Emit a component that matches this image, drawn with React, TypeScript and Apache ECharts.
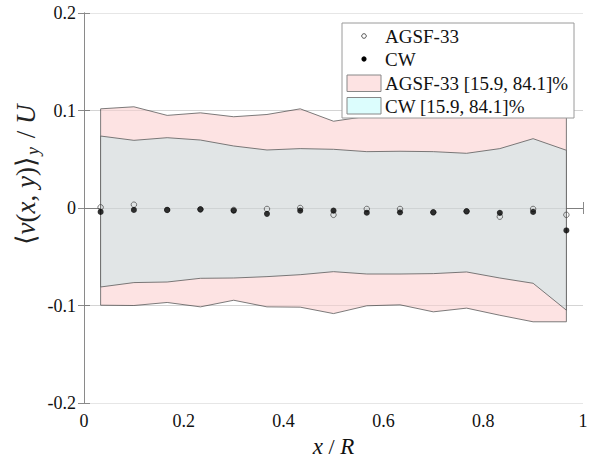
import React, { useEffect, useRef } from "react";
import * as echarts from "echarts";

// x positions (x/R)
const xs = [0.0333, 0.1, 0.1667, 0.2333, 0.3, 0.3667, 0.4333, 0.5, 0.5667, 0.6333, 0.7, 0.7667, 0.8333, 0.9, 0.9667];
// AGSF-33 mean values
const agsfMean = [0.0007, 0.0034, -0.002, -0.0014, -0.002, -0.001, 0.0, -0.007, -0.001, -0.001, -0.0044, -0.0034, -0.0089, -0.001, -0.007];
// CW mean values
const cwMean = [-0.004, -0.002, -0.002, -0.0014, -0.0027, -0.006, -0.0027, -0.0027, -0.0048, -0.0044, -0.0044, -0.0034, -0.005, -0.004, -0.023];
// AGSF-33 percentile band [15.9, 84.1]%
const agsfUpper = [0.1017, 0.1038, 0.095, 0.0976, 0.0936, 0.0959, 0.1017, 0.089, 0.094, 0.095, 0.094, 0.096, 0.098, 0.1, 0.1];
const agsfLower = [-0.0997, -0.1, -0.0969, -0.1014, -0.0946, -0.1014, -0.1017, -0.1083, -0.1003, -0.0993, -0.1065, -0.1027, -0.11, -0.1167, -0.1167];
// CW percentile band [15.9, 84.1]%
const cwUpper = [0.0738, 0.0694, 0.0721, 0.0697, 0.0636, 0.0595, 0.0609, 0.0602, 0.0578, 0.0582, 0.0578, 0.0561, 0.0609, 0.0711, 0.0592];
const cwLower = [-0.081, -0.0765, -0.0759, -0.0721, -0.0718, -0.0704, -0.0684, -0.0653, -0.0677, -0.0677, -0.0673, -0.0656, -0.0718, -0.0772, -0.1048];

const xTicks = [0, 0.2, 0.4, 0.6, 0.8, 1];
const yTicks = [-0.2, -0.1, 0, 0.1, 0.2];

const PINK = "#fde3e3";
const OVERLAP = "#e1e5e6";
const CYAN = "#dcfdfd";
const EDGE = "#5a5a5a";
const AXIS = "#8a8a8a";
const SERIF = "Liberation Serif";

function bandSeries(name: string, upper: number[], lower: number[], fill: string) {
  return {
    type: "custom",
    name,
    data: [[xs[0], upper[0]]],
    z: 1,
    silent: true,
    renderItem: (_params: any, api: any) => {
      const pts: number[][] = [];
      for (let i = 0; i < xs.length; i++) pts.push(api.coord([xs[i], upper[i]]));
      for (let i = xs.length - 1; i >= 0; i--) pts.push(api.coord([xs[i], lower[i]]));
      return {
        type: "polygon",
        shape: { points: pts },
        style: { fill, stroke: EDGE, lineWidth: 0.8 },
      };
    },
  };
}

export default function App() {
  const ref = useRef<HTMLDivElement>(null);
  useEffect(() => {
    document.body.style.margin = "0";
    const chart = echarts.init(ref.current!, null, { renderer: "svg" });
    const tickFmt = (v: number) => {
      const r = Math.round(v * 10) / 10;
      return r === 0 ? "0" : String(r);
    };
    const axisCommon = {
      axisLine: { show: true, lineStyle: { color: AXIS, width: 1 } },
      axisTick: { show: true, inside: true, length: 6, lineStyle: { color: AXIS } },
    };
    const legendText = (y: number, text: string) => ({
      type: "text", z: 101, x: 385, y,
      style: { text, fontFamily: SERIF, fontSize: 19, fill: "#111", verticalAlign: "middle" },
    });
    chart.setOption({
      animation: false,
      backgroundColor: "#ffffff",
      textStyle: { fontFamily: SERIF },
      grid: { left: 84, right: 14, top: 13, bottom: 55, containLabel: false, outerBoundsMode: "none" },
      xAxis: [
        {
          type: "value",
          min: 0,
          max: 1,
          interval: 0.2,
          position: "bottom",
          ...axisCommon,
          splitLine: { show: false },
          axisLabel: { fontFamily: SERIF, fontSize: 18, color: "#111", margin: 9, formatter: tickFmt },
          name: "{i|x}{r| / }{i|R}",
          nameLocation: "middle",
          nameGap: 28,
          nameTextStyle: {
            fontFamily: SERIF,
            lineHeight: 22,
            rich: {
              i: { fontFamily: SERIF, fontStyle: "italic", fontSize: 23, lineHeight: 22, color: "#111" },
              r: { fontFamily: SERIF, fontSize: 22, lineHeight: 22, color: "#111" },
            },
          },
        },
        {
          type: "value",
          min: 0,
          max: 1,
          interval: 0.2,
          position: "top",
          ...axisCommon,
          axisLabel: { show: false },
          splitLine: { show: false },
        },
      ],
      yAxis: [
        {
          type: "value",
          min: -0.2,
          max: 0.2,
          interval: 0.1,
          position: "left",
          ...axisCommon,
          splitLine: { show: true, lineStyle: { color: "#e6e6e6", width: 1 } },
          axisLabel: { fontFamily: SERIF, fontSize: 18, color: "#111", margin: 8, formatter: tickFmt },
        },
        {
          type: "value",
          min: -0.2,
          max: 0.2,
          interval: 0.1,
          position: "right",
          ...axisCommon,
          axisLabel: { show: false },
          splitLine: { show: false },
        },
      ],
      series: [
        bandSeries("AGSF-33 [15.9, 84.1]%", agsfUpper, agsfLower, PINK),
        bandSeries("CW [15.9, 84.1]%", cwUpper, cwLower, OVERLAP),
        {
          type: "scatter",
          name: "AGSF-33",
          data: xs.map((x, i) => [x, agsfMean[i]]),
          symbol: "circle",
          symbolSize: 5.5,
          z: 3,
          itemStyle: { color: "rgba(255,255,255,0)", borderColor: "#444", borderWidth: 0.9 },
          markLine: {
            silent: true,
            symbol: "none",
            label: { show: false },
            lineStyle: { color: "rgba(0,0,0,0.08)", type: "solid", width: 1 },
            data: yTicks.filter((t) => Math.abs(t) < 0.15).map((t) => ({ yAxis: t })),
          },
        },
        {
          type: "scatter",
          name: "CW",
          data: xs.map((x, i) => [x, cwMean[i]]),
          symbol: "circle",
          symbolSize: 6,
          z: 4,
          itemStyle: { color: "#000" },
        },
      ],
      graphic: [
        {
          type: "text",
          z: 50,
          x: 26,
          y: 175,
          rotation: Math.PI / 2,
          style: {
            text: "{r|⟨}{i|v}{r|(}{i|x}{r|, }{i|y}{r|)⟩}{s|y}{r| / }{i|U}",
            align: "center",
            verticalAlign: "middle",
            rich: {
              r: { fontFamily: SERIF, fontSize: 27, fill: "#222" },
              i: { fontFamily: SERIF, fontSize: 27, fontStyle: "italic", fill: "#222" },
              s: { fontFamily: SERIF, fontSize: 18, fontStyle: "italic", fill: "#222", padding: [14, 2, 0, 1] },
            },
          },
        },
        { type: "rect", z: 100, shape: { x: 342, y: 23, width: 232, height: 95 }, style: { fill: "#fff", stroke: "#9a9a9a", lineWidth: 1 } },
        { type: "circle", z: 101, shape: { cx: 364, cy: 36, r: 2.3 }, style: { fill: "none", stroke: "#444", lineWidth: 0.9 } },
        legendText(36, "AGSF-33"),
        { type: "circle", z: 101, shape: { cx: 364, cy: 59, r: 2.6 }, style: { fill: "#000" } },
        legendText(59, "CW"),
        { type: "rect", z: 101, shape: { x: 347, y: 75, width: 34, height: 16.5 }, style: { fill: PINK, stroke: "#888", lineWidth: 1 } },
        legendText(83.5, "AGSF-33 [15.9, 84.1]%"),
        { type: "rect", z: 101, shape: { x: 347, y: 97.5, width: 34, height: 16.5 }, style: { fill: CYAN, stroke: "#888", lineWidth: 1 } },
        legendText(106, "CW [15.9, 84.1]%"),
      ],
    });
    return () => chart.dispose();
  }, []);
  return <div ref={ref} style={{ position: "absolute", left: 0, top: 0, width: 597, height: 458 }} />;
}
